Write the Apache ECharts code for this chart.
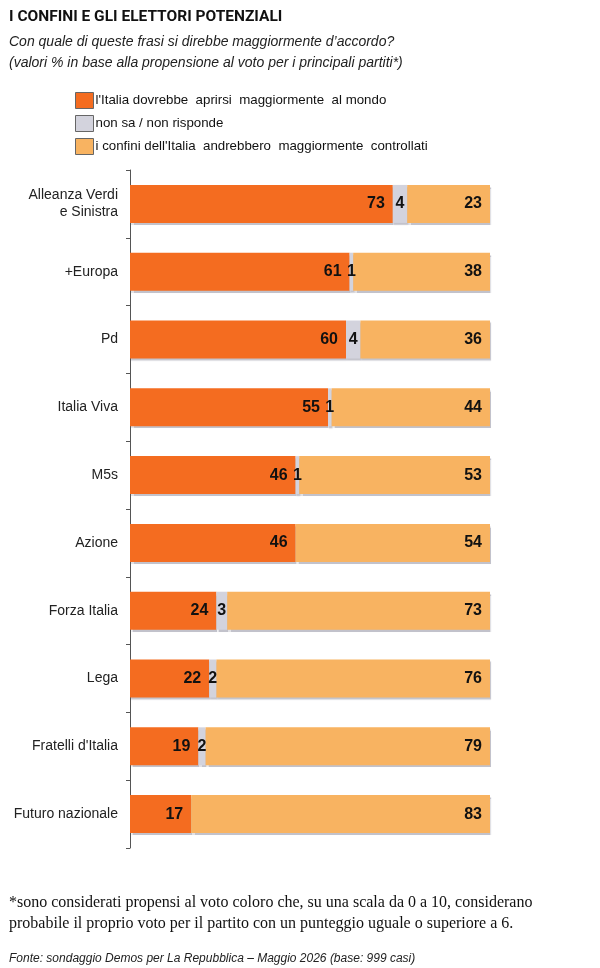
<!DOCTYPE html>
<html><head><meta charset="utf-8">
<script src="https://cdn.jsdelivr.net/npm/echarts@6/dist/echarts.min.js"></script>
<style>html,body{margin:0;padding:0;background:#fff}#c{width:600px;height:968px}</style>
</head><body><div id="c"></div>
<script>
const categories = ["Alleanza Verdi\ne Sinistra","+Europa","Pd","Italia Viva","M5s","Azione","Forza Italia","Lega","Fratelli d'Italia","Futuro nazionale"];
const aprirsi = [73,61,60,55,46,46,24,22,19,17];
const nonSa = [4,1,4,1,1,0,3,2,2,0];
const controllati = [23,38,36,44,53,54,73,76,79,83];
const seriesNames = ["l'Italia dovrebbe  aprirsi  maggiormente  al mondo","non sa / non risponde","i confini dell'Italia  andrebbero  maggiormente  controllati"];

const chart = echarts.init(document.getElementById('c'));
const lbl = {show:true,fontFamily:'"Liberation Sans",Arial',fontWeight:'bold',fontSize:16,color:'#111',
  formatter:p=>p.value===0?'':String(p.value)};
const shadow = {shadowColor:'rgba(120,120,140,0.45)',shadowOffsetX:1,shadowOffsetY:2,shadowBlur:1};
chart.setOption({
  animation:false,
  title:[
    {text:'I CONFINI E GLI ELETTORI POTENZIALI',left:4,top:4,textStyle:{fontFamily:'Roboto,"Liberation Sans",Arial',fontWeight:'bold',fontSize:15.5,color:'#111'}},
    {text:'Con quale di queste frasi si direbbe maggiormente d\u2019accordo?\n(valori % in base alla propensione al voto per i principali partiti*)',left:4,top:27,
      textStyle:{fontFamily:'"Liberation Sans",Arial',fontStyle:'italic',fontWeight:'normal',fontSize:14,color:'#222',lineHeight:21}},
    {text:'*sono considerati propensi al voto coloro che, su una scala da 0 a 10, considerano\nprobabile il proprio voto per il partito con un punteggio uguale o superiore a 6.',left:4,top:887,
      textStyle:{fontFamily:'"Liberation Serif","Times New Roman",serif',fontWeight:'normal',fontSize:16,color:'#111',lineHeight:21}},
    {text:'Fonte: sondaggio Demos per La Repubblica \u2013 Maggio 2026 (base: 999 casi)',left:4,top:948,
      textStyle:{fontFamily:'"Liberation Sans",Arial',fontStyle:'italic',fontWeight:'normal',fontSize:12,color:'#222'}}
  ],
  legend:{orient:'vertical',left:70,top:87,itemWidth:18,itemHeight:16,itemGap:6,icon:'rect',
    data:seriesNames.map(n=>({name:n,itemStyle:{borderColor:'#666',borderWidth:1}})),
    textStyle:{fontFamily:'"Liberation Sans",Arial',fontSize:13.3,color:'#111',padding:[0,0,0,-3]}},
  grid:{left:130,right:110,top:170,bottom:120},
  xAxis:{type:'value',min:0,max:100,show:false},
  yAxis:{type:'category',data:categories,inverse:true,
    axisLine:{lineStyle:{color:'#555',width:1}},
    axisTick:{show:true,length:4,lineStyle:{color:'#555'}},
    axisLabel:{margin:12,fontFamily:'"Liberation Sans",Arial',fontSize:14,color:'#222',lineHeight:17}},
  series:[
    {name:seriesNames[0],type:'bar',stack:'t',data:aprirsi,barCategoryGap:'44%',itemStyle:Object.assign({color:'#F46C20'},shadow),
      label:Object.assign({position:'insideRight',distance:8},lbl)},
    {name:seriesNames[1],type:'bar',stack:'t',data:nonSa,itemStyle:Object.assign({color:'#D3D3DD'},shadow),
      label:Object.assign({position:'inside'},lbl)},
    {name:seriesNames[2],type:'bar',stack:'t',data:controllati,itemStyle:Object.assign({color:'#F8B361'},shadow),
      label:Object.assign({position:'insideRight',distance:8},lbl)}
  ]
});
</script></body></html>
